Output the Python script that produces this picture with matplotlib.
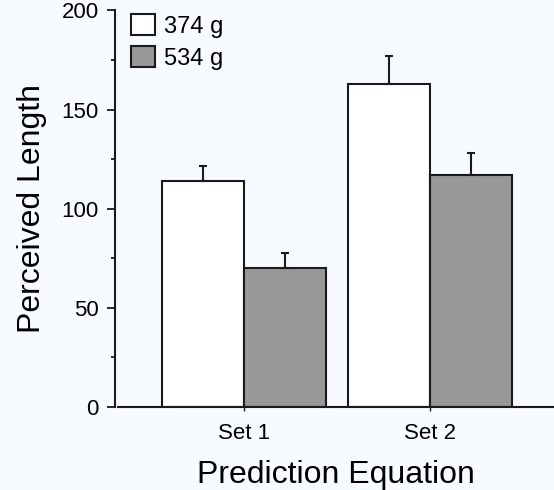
import matplotlib
matplotlib.use("Agg")
import matplotlib.pyplot as plt
import numpy as np
from matplotlib.ticker import MultipleLocator

plt.rcParams['font.family'] = ['Liberation Sans', 'DejaVu Sans']

categories = ["Set 1", "Set 2"]
series_names = ["374 g", "534 g"]
light_vals = [114, 163]
light_err = [7.5, 14]
heavy_vals = [70, 117]
heavy_err = [7.8, 11]
yticks = [0, 50, 100, 150, 200]

bg = "#f7fbff"
W, H = 554, 490
fig = plt.figure(figsize=(W / 100, H / 100), dpi=100, facecolor=bg)
ax = fig.add_axes([118 / W, 1 - 406.7 / H, (W - 118) / W, (406.7 - 10.5) / H])
ax.set_facecolor(bg)

x = np.arange(len(categories))
bw = 0.44
ec = "#1a1a1a"
ax.bar(x - bw / 2, light_vals, bw, color="white", edgecolor=ec, linewidth=1.5,
       label=series_names[0], zorder=2)
ax.bar(x + bw / 2, heavy_vals, bw, color="#989898", edgecolor=ec, linewidth=1.5,
       label=series_names[1], zorder=2)
ax.errorbar(x - bw / 2, light_vals, yerr=[np.zeros(2), light_err], fmt="none",
            ecolor=ec, elinewidth=1.5, capsize=3.2, capthick=1.5, zorder=3)
ax.errorbar(x + bw / 2, heavy_vals, yerr=[np.zeros(2), heavy_err], fmt="none",
            ecolor=ec, elinewidth=1.5, capsize=3.2, capthick=1.5, zorder=3)

ax.set_xlim(-0.677, 1.667)
ax.set_ylim(0, 200)
ax.set_yticks(yticks)
ax.yaxis.set_minor_locator(MultipleLocator(25))
ax.set_xticks(x)
ax.set_xticklabels(categories, fontsize=16)
ax.tick_params(axis="y", which="major", length=6, width=1.3, labelsize=16, pad=6, color=ec)
ax.tick_params(axis="y", which="minor", length=3, width=1.3, color=ec)
ax.tick_params(axis="x", which="major", length=3, width=1.0, pad=9, color=ec)
for s in ["top", "right"]:
    ax.spines[s].set_visible(False)
for s in ["left", "bottom"]:
    ax.spines[s].set_linewidth(1.5)
    ax.spines[s].set_color(ec)
ax.spines["left"].set_position(("outward", 2))

ax.set_ylabel("Perceived Length", fontsize=23, labelpad=10)
ax.set_xlabel("Prediction Equation", fontsize=23, labelpad=11)

ax.legend(loc="upper left", bbox_to_anchor=(0.008, 1.015), frameon=False,
          fontsize=17, handlelength=1.0, handleheight=1.0, handletextpad=0.4,
          labelspacing=0.35, borderaxespad=0)

fig.savefig("out.png", dpi=100, facecolor=bg)
